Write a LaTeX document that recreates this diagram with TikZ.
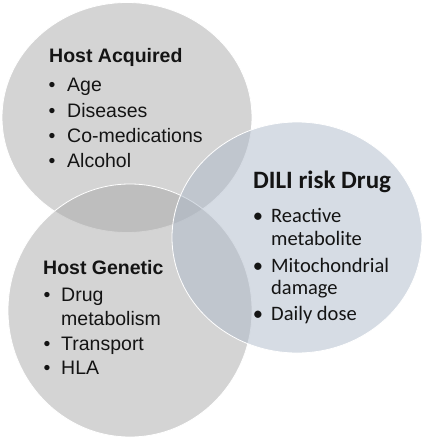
\documentclass[tikz,border=0pt]{standalone}
\usepackage{fontspec}
\newfontfamily\arialf{Liberation Sans}
\newfontfamily\calf{Carlito}
\definecolor{venngray}{RGB}{169,169,169}
\definecolor{vennblue}{RGB}{173,185,201}
\definecolor{txt}{RGB}{20,20,20}
\begin{document}
\begin{tikzpicture}[x=1pt,y=-1pt,
  venn/.style={fill opacity=0.5,draw=white,draw opacity=1,line width=0.8pt},
  ttl/.style={anchor=base west,inner sep=0pt,text=txt,font=\arialf\bfseries\fontsize{19.5}{23}\selectfont},
  itm/.style={anchor=base west,inner sep=0pt,text=txt,font=\arialf\fontsize{19.5}{23}\selectfont},
  bul/.style={anchor=base,inner sep=0pt,text=txt,font=\arialf\fontsize{19.5}{23}\selectfont},
  cttl/.style={anchor=base west,inner sep=0pt,text=txt,font=\calf\bfseries\fontsize{25}{28}\selectfont},
  citm/.style={anchor=base west,inner sep=0pt,text=txt,font=\calf\fontsize{20.5}{23}\selectfont},
  cbul/.style={anchor=base,inner sep=0pt,text=txt,font=\calf\fontsize{20.5}{23}\selectfont}]
\useasboundingbox (0,0) rectangle (424,440);
% circles
\path[venn,fill=venngray] (127,117.5) ellipse [x radius=125pt, y radius=115pt];
\path[venn,fill=venngray] (130,310.5) ellipse [x radius=122pt, y radius=126.5pt];
\path[venn,fill=vennblue] (297,237.5) ellipse [x radius=125pt, y radius=115.5pt];
% Host Acquired
\node[ttl] (ha) at (49,62.7) {Host Acquired};
\node[bul] (hab1) at (52,91.7) {•};
\node[itm] (ha1) at (67,91.7) {Age};
\node[bul] (hab2) at (52,117) {•};
\node[itm] (ha2) at (67,117) {Diseases};
\node[bul] (hab3) at (52,142) {•};
\node[itm] (ha3) at (67,142) {Co-medications};
\node[bul] (hab4) at (52,167) {•};
\node[itm] (ha4) at (67,167) {Alcohol};
% Host Genetic
\node[ttl] (hg) at (43,274) {Host Genetic};
\node[bul] (hgb1) at (47,301) {•};
\node[itm] (hg1) at (61,301) {Drug};
\node[itm] (hg1b) at (61,325) {metabolism};
\node[bul] (hgb2) at (47,350) {•};
\node[itm] (hg2) at (61,350) {Transport};
\node[bul] (hgb3) at (47,374) {•};
\node[itm] (hg3) at (61,374) {HLA};
% DILI risk Drug
\node[cttl] (dd) at (253,188) {DILI risk Drug};
\node[cbul] (ddb1) at (258,222) {•};
\node[citm] (dd1) at (271,222) {Reactive};
\node[citm] (dd1b) at (271,245) {metabolite};
\node[cbul] (ddb2) at (258,272) {•};
\node[citm] (dd2) at (271,272) {Mitochondrial};
\node[citm] (dd2b) at (271,294) {damage};
\node[cbul] (ddb3) at (258,320) {•};
\node[citm] (dd3) at (271,320) {Daily dose};
\end{tikzpicture}
\end{document}
